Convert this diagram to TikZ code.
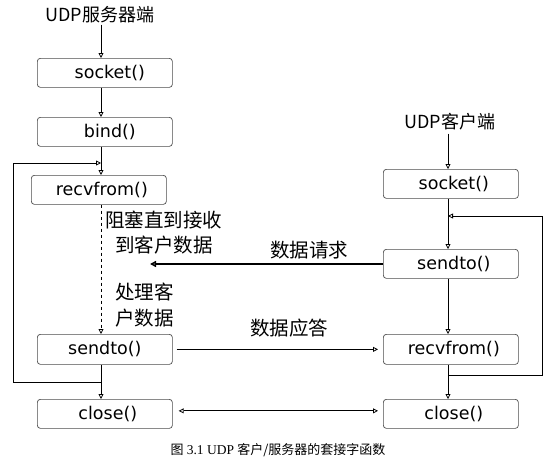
\documentclass[tikz,border=0pt]{standalone}
\usepackage{fontspec}
\setmainfont{DejaVu Sans}
\newfontfamily\cjk{Noto Sans CJK SC}
\newfontfamily\boxfont{DejaVu Sans}
\newfontfamily\capfont{Liberation Serif}
\usetikzlibrary{arrows.meta}
\begin{document}
\begin{tikzpicture}[x=1pt,y=-1pt,
  fn/.style={draw=black!70, line width=0.7pt, rounded corners=3pt, minimum width=135pt, minimum height=29pt,
    inner sep=0pt, anchor=north west, font=\boxfont\fontsize{17.5}{19}\selectfont},
  ar/.style={-{Triangle[open,length=5pt,width=5pt]}, line width=0.8pt},
  title/.style={font=\cjk\fontsize{18}{20}\selectfont, inner sep=1pt},
  lbl/.style={font=\cjk\fontsize{19.5}{21}\selectfont, anchor=west, inner sep=0pt}]
\useasboundingbox (0,0) rectangle (557,466);
\coordinate (L) at (101,0);
\coordinate (R) at (448,0);
% server column
\node[title] (t1) at (100,15) {UDP服务器端};
\node[fn] (s1) at (37,58) {\hspace{10pt}socket()};
\node[fn] (s2) at (37,117) {\hspace{10pt}bind()};
\node[fn] (s3) at (31,175) {\hspace{6pt}recvfrom()};
\node[fn, minimum height=30pt] (s4) at (37,334) {sendto()};
\node[fn] (s5) at (37,399) {\hspace{6pt}close()};
% client column
\node[title, inner sep=3pt] (t2) at (450,122) {UDP客户端};
\node[fn] (c1) at (383,169) {\hspace{6pt}socket()};
\node[fn] (c2) at (383,249) {\hspace{6pt}sendto()};
\node[fn, minimum height=30pt] (c3) at (383,334) {\hspace{6pt}recvfrom()};
\node[fn] (c4) at (383,399) {\hspace{6pt}close()};
% labels
\node[lbl] (b1) at (105,220) {阻塞直到接收};
\node[lbl] (b2) at (115,245) {到客户数据};
\node[lbl] (p1) at (115,292) {处理客};
\node[lbl] (p2) at (115,318) {户数据};
\node[lbl] (q) at (270,250) {数据请求};
\node[lbl] (a) at (250,328) {数据应答};
% caption
\node[inner sep=0pt] (cap) at (278,450) {{\cjk\fontsize{13}{14}\selectfont 图} {\capfont\fontsize{13.5}{14}\selectfont 3.1 UDP} {\cjk\fontsize{13}{14}\selectfont 客户/服务器的套接字函数}};
% server flow
\draw[ar] (t1.south -| L) -- (s1.north -| L);
\draw[ar] (s1.south -| L) -- (s2.north -| L);
\draw[ar] (s2.south -| L) -- (s3.north -| L);
\draw[ar, dashed] (s3.south -| L) -- (s4.north -| L);
\draw[ar] (s4.south -| L) -- (s5.north -| L);
\coordinate (lb) at (101,382);
\coordinate (lbl1) at (13,382);
\coordinate (ltl) at (13,163);
\coordinate (lt) at (101,163);
\draw[ar] (lb) -- (lbl1) -- (ltl) -- (lt);
% client flow
\draw[ar] (t2.south -| R) -- (c1.north -| R);
\draw[ar] (c1.south -| R) -- (c2.north -| R);
\draw[ar] (c2.south -| R) -- (c3.north -| R);
\draw[ar] (c3.south -| R) -- (c4.north -| R);
\coordinate (rb) at (448,375);
\coordinate (rbr) at (542,375);
\coordinate (rtr) at (542,216);
\coordinate (rt) at (448,216);
\draw[ar] (rb) -- (rbr) -- (rtr) -- (rt);
% exchanges
\coordinate (req) at (150,264);
\draw[-{Triangle[open,length=6pt,width=6pt]}, line width=1.8pt] (c2.west |- req) -- (req);
\draw[ar] ([xshift=4pt]s4.east) -- ([xshift=-5pt]c3.west);
\draw[{Triangle[open,length=5pt,width=5pt]}-{Triangle[open,length=5pt,width=5pt]}, line width=0.8pt] ([xshift=6pt,yshift=3pt]s5.east) -- ([xshift=-5pt,yshift=3pt]c4.west);
\end{tikzpicture}
\end{document}
